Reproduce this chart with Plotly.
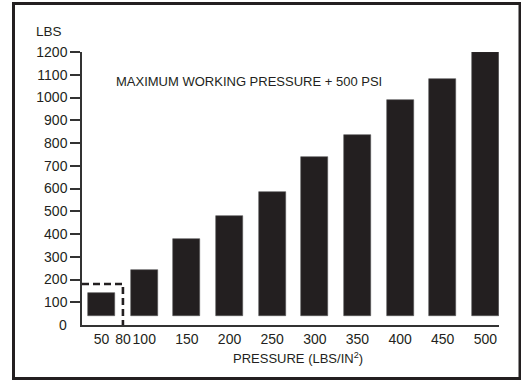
import plotly.graph_objects as go

# data
pressure = ["50", "100", "150", "200", "250", "300", "350", "400", "450", "500"]
lbs = [140, 240, 380, 480, 585, 740, 835, 990, 1080, 1200]
extra_tick_label = "80"       # sits between the 50 and 100 bars
box_lbs = 180                 # dashed box height at 80 psi
bar_base = 40                 # bars start slightly above the axis in the original
y_ticks = [100, 200, 300, 400, 500, 600, 700, 800, 900, 1000, 1100, 1200]

INK = '#231F20'
FONT = 'Liberation Sans, Arial, sans-serif'

W, H = 521, 380
L, R, T, B = 82, 22, 52, 55
PW, PH = W - L - R, H - T - B


def px_x(p):
    return (p - L) / PW


def px_y(p):
    return (H - B - p) / PH


xs = list(range(len(pressure)))
tickvals = [0, 0.5] + xs[1:]
ticktext = [pressure[0], extra_tick_label] + pressure[1:]
x_lo, x_hi = -0.46, 9.32

fig = go.Figure()
fig.add_trace(go.Bar(
    x=xs,
    y=[v - bar_base for v in lbs],
    base=bar_base,
    width=0.63,
    marker=dict(color=INK, line=dict(color='#555555', width=0.6)),
    hoverinfo='skip'
))

# dashed box marking the 80 psi value
fig.add_trace(go.Scatter(
    x=[x_lo, 0.5, 0.5],
    y=[box_lbs, box_lbs, 0],
    mode='lines',
    line=dict(color=INK, width=2.6, dash='7px,4px'),
    hoverinfo='skip'
))


def label(text, x, y, size=13, **kw):
    fig.add_annotation(text=text, x=x, y=y, xref=kw.pop('xref', 'paper'),
                       yref=kw.pop('yref', 'paper'), showarrow=False,
                       xanchor=kw.pop('xanchor', 'center'), yanchor='middle',
                       font=dict(family=FONT, size=size, color=INK), **kw)


label("MAXIMUM WORKING PRESSURE + 500 PSI", px_x(248.5), px_y(81.5), 13)
label("LBS", px_x(48.5), px_y(31), 13.5)
label("0", px_x(69), 0, 14, yref='y', xanchor='right')
label("PRESSURE (LBS/IN<sup>2</sup>)", px_x(297.5), px_y(358), 13)

# outer frame
fig.add_shape(type='rect', xref='paper', yref='paper',
              x0=px_x(13.5), x1=px_x(520), y0=px_y(378.5), y1=px_y(3.5),
              line=dict(color=INK, width=3), fillcolor='rgba(0,0,0,0)', layer='above')

fig.update_layout(
    width=W, height=H, autosize=False,
    margin=dict(l=L, r=R, t=T, b=B, pad=0),
    paper_bgcolor='white',
    plot_bgcolor='white',
    showlegend=False,
    bargap=0,
    xaxis=dict(
        range=[x_lo, x_hi],
        tickvals=tickvals, ticktext=ticktext, tickangle=0,
        tickfont=dict(family=FONT, size=14, color=INK),
        ticks='', showgrid=False, zeroline=False,
        showline=True, linecolor='#333333', linewidth=1.5,
        fixedrange=True
    ),
    yaxis=dict(
        range=[0, 1200],
        tickvals=y_ticks,
        tickfont=dict(family=FONT, size=14, color=INK),
        ticks='outside', ticklen=10, tickwidth=1.5, tickcolor='#333333',
        showgrid=False, zeroline=False,
        showline=True, linecolor='#333333', linewidth=1.5,
        fixedrange=True
    )
)

fig.write_html("out.html", config={'displayModeBar': False},
               post_script="document.body.style.margin='0';")
